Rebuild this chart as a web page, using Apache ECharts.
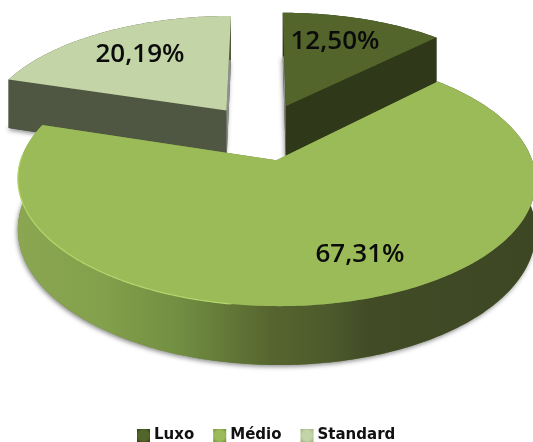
<!DOCTYPE html>
<html>
<head>
<meta charset="utf-8">
<style>html,body{margin:0;padding:0;background:#fff}#chart{width:533px;height:442px}</style>
<script src="https://cdn.jsdelivr.net/npm/echarts@6/dist/echarts.min.js"></script>
</head>
<body>
<div id="chart"></div>
<script>
// Share of each segment, in percent, clockwise from twelve o'clock
const categories = ['Luxo', 'Médio', 'Standard'];
const shares = [12.5, 67.31, 20.19];

const topColors = ['#53652b', '#9bbb59', '#c3d4a6'];
const wallColors = ['#2f3818', '#6f8a3f', '#4f5641'];
const iconEdges = ['#2f3a16', '#6f8c3c', '#98ad7a'];
const labelSpots = [[335, 42], [360, 255], [140, 55]];

// Perspective camera over a unit disc lying flat
const view = { cx: 262, cy: 133, rx: 247, ry: 115, tilt: 0.15 };
const explodeBy = [0.26, 0.235, 0.25];
const depthBy = [52, 48, 52];
const total = shares.reduce((a, b) => a + b, 0);
const startAngles = shares.map((_, i) =>
  shares.slice(0, i).reduce((a, b) => a + b, 0) / total * 2 * Math.PI);

function project(u, v, drop) {
  const w = 1 - view.tilt * v;
  return [
    view.cx + view.rx * u / w,
    view.cy + view.ry * v / w + drop / w
  ];
}

function arcPoints(ox, oy, a0, a1, drop) {
  const pts = [];
  const steps = Math.max(2, Math.ceil((a1 - a0) / 0.015));
  for (let s = 0; s <= steps; s++) {
    const a = a0 + (a1 - a0) * s / steps;
    pts.push(project(ox + Math.sin(a), oy - Math.cos(a), drop));
  }
  return pts;
}

function poly(points, style) {
  return { type: 'polygon', shape: { points }, style };
}

function renderSlice(index, value) {
  const a0 = startAngles[index];
  const a1 = a0 + value / total * 2 * Math.PI;
  const mid = (a0 + a1) / 2;
  const ox = explodeBy[index] * Math.sin(mid);
  const oy = -explodeBy[index] * Math.cos(mid);
  const depth = depthBy[index];
  const apexTop = project(ox, oy, 0);
  const apexLow = project(ox, oy, depth);
  const top = arcPoints(ox, oy, a0, a1, 0);
  const low = arcPoints(ox, oy, a0, a1, depth);
  const wallFace = (i, fill) => poly([apexTop, top[i], low[i], apexLow], { fill });

  const rimFill = index === 1 ? {
    type: 'linear', global: true, x: 20, y: 0, x2: 533, y2: 0,
    colorStops: [
      { offset: 0, color: '#8aa651' },
      { offset: 0.16, color: '#83a04c' },
      { offset: 0.31, color: '#728e42' },
      { offset: 0.49, color: '#56652f' },
      { offset: 0.6, color: '#4d5a2c' },
      { offset: 0.68, color: '#414b26' },
      { offset: 1, color: '#3e4724' }
    ]
  } : wallColors[index];

  // The face turned almost edge-on towards the gap reads as a grey sliver
  const lastFace = top.length - 1;
  const firstFill = index === 0 ? '#8f8f8f' : wallColors[index];
  const lastFill = index === 2 ? '#8f8f8f' : wallColors[index];

  const children = [
    // Base outline carries the soft drop shadow
    poly([apexLow].concat(low), {
      fill: wallColors[index],
      shadowBlur: 4, shadowColor: 'rgba(40,40,40,0.5)', shadowOffsetX: -1, shadowOffsetY: 2
    }),
    wallFace(0, firstFill),
    wallFace(lastFace, lastFill),
    poly(top.concat(low.slice().reverse()), { fill: rimFill }),
    poly([apexTop].concat(top), { fill: topColors[index] })
  ];

  if (index === 1) {
    // Thin bright bevel along the front-left edge of the large segment
    children.push({
      type: 'polyline',
      shape: { points: arcPoints(ox, oy, 3.3, 4.75, 0) },
      style: { fill: null, stroke: '#b6d76e', lineWidth: 1.2 }
    });
  }

  children.push({
    type: 'text',
    style: {
      text: value.toFixed(2).replace('.', ',') + '%',
      x: labelSpots[index][0], y: labelSpots[index][1],
      align: 'center', verticalAlign: 'middle',
      fill: '#0b0b0b',
      font: '600 26px "Open Sans", sans-serif'
    }
  });
  return { type: 'group', children };
}

// The two rear segments are painted before the large front one
const paintOrder = [2, 0, 1];

const chart = echarts.init(document.getElementById('chart'), null, { renderer: 'canvas' });
chart.setOption({
  animation: false,
  backgroundColor: '#ffffff',
  legend: {
    left: 137, top: 428, padding: 0, itemWidth: 13, itemHeight: 13, itemGap: 19,
    icon: 'rect',
    textStyle: { fontFamily: 'DejaVu Sans', fontWeight: 'bold', fontSize: 15, color: '#111', padding: [0, 0, 0, -1] },
    data: categories.map((name, i) => ({
      name,
      itemStyle: {
        color: {
          type: 'radial', x: 0.5, y: 0.5, r: 0.7,
          colorStops: [
            { offset: 0, color: topColors[i] },
            { offset: 0.55, color: topColors[i] },
            { offset: 1, color: iconEdges[i] }
          ]
        }
      }
    }))
  },
  series: paintOrder.map((i) => ({
    type: 'custom',
    name: categories[i],
    coordinateSystem: 'none',
    silent: true,
    itemStyle: { color: topColors[i] },
    data: [[shares[i]]],
    renderItem: (params, api) => renderSlice(i, api.value(0))
  }))
});
</script>
</body>
</html>
